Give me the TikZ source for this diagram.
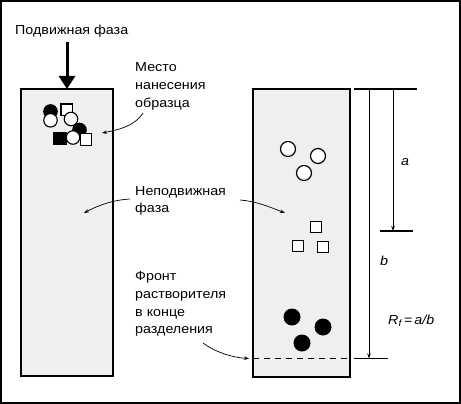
\documentclass[tikz,border=0pt]{standalone}
\usepackage{fontspec}
\setmainfont{Liberation Sans}[FakeStretch=1.1]
\usetikzlibrary{arrows.meta}
\definecolor{colfill}{HTML}{EFEFEF}
\begin{document}
\begin{tikzpicture}[x=1pt,y=-1pt,
  lbl/.style={anchor=base west, inner sep=0pt, align=left, font=\fontsize{13}{17.7}\selectfont},
  colbox/.style={draw=black, line width=1.8pt, fill=colfill},
  wc/.style={circle, draw=black, line width=1.2pt, fill=white, minimum size=15pt, inner sep=0pt},
  bc/.style={circle, fill=black, minimum size=17pt, inner sep=0pt},
  swc/.style={circle, draw=black, line width=1.1pt, fill=white, minimum size=13.5pt, inner sep=0pt},
  sbc/.style={circle, draw=black, line width=1.1pt, fill=black, minimum size=13.5pt, inner sep=0pt},
  wsq/.style={rectangle, draw=black, line width=1.2pt, fill=white, minimum size=11.5pt, inner sep=0pt},
  bsq/.style={rectangle, draw=black, line width=1.1pt, fill=black, minimum size=12.5pt, inner sep=0pt},
  ann/.style={line width=0.7pt, -{Stealth[length=5pt,width=3.5pt]}},
  scl/.style={line width=1.6pt},
  sca/.style={line width=0.8pt, -{Stealth[length=5pt,width=3.5pt]}},
  itl/.style={anchor=base west, inner sep=0pt, font=\fontsize{13}{15}\selectfont\itshape}
]
\useasboundingbox (0,0) rectangle (461,404);
\draw[line width=2pt] (1,1) rectangle (460,403);

% columns
\draw[colbox] (21,89) rectangle (113,376);
\draw[colbox] (253,89) rectangle (350,377);

% mobile phase
\node[lbl] (pf) at (15,35) {Подвижная фаза};
\coordinate (pfs) at (67,42);
\coordinate (pfe) at (67,89);
\draw[line width=3pt, -{Triangle[length=13pt,width=16pt]}] (pfs) -- (pfe);

% sample cluster
\node[sbc] (k1) at (50.5,111.5) {};
\node[swc] (k2) at (50.5,120.3) {};
\node[wsq] (k3) at (66.8,109.8) {};
\node[swc] (k4) at (71,119) {};
\node[sbc] (k5) at (79.5,130) {};
\node[bsq] (k6) at (60,138.5) {};
\node[wsq] (k7) at (86,139.5) {};
\node[swc] (k8) at (73,137.5) {};

% right column spots
\node[wc] (w1) at (288,149) {};
\node[wc] (w2) at (318,156) {};
\node[wc] (w3) at (304,173) {};
\node[wsq] (s1) at (316,227) {};
\node[wsq] (s2) at (298,246) {};
\node[wsq] (s3) at (323,247) {};
\node[bc] (b1) at (292,317) {};
\node[bc] (b2) at (323,327) {};
\node[bc] (b3) at (302,343) {};

% front
\draw[line width=1pt, dash pattern=on 6pt off 5pt] (253,358.5) -- (350,358.5);

% labels (base anchor = last line baseline)
\node[lbl] (mesto) at (135,107.4) {Место\\нанесения\\образца};
\node[lbl] (nep) at (135,212.7) {Неподвижная\\фаза};
\node[lbl] (front) at (135,333.8) {Фронт\\растворителя\\в конце\\разделения};

% annotation arrows
\coordinate (m1) at (143,113);
\coordinate (m2) at (102,133);
\draw[ann] (m1) .. controls (135,126) and (118,130) .. (m2);
\coordinate (n1) at (130,199);
\coordinate (n2) at (84,213);
\draw[ann] (n1) .. controls (112,200) and (97,206) .. (n2);
\coordinate (n3) at (240,200);
\coordinate (n4) at (285,213);
\draw[ann] (n3) .. controls (255,201) and (270,207) .. (n4);
\coordinate (f1) at (203,343);
\coordinate (f2) at (249,358.5);
\draw[ann] (f1) .. controls (215,352) and (232,357.5) .. (f2);

% scale
\coordinate (t1) at (354,89);
\coordinate (t2) at (417,89);
\coordinate (ma1) at (380,231);
\coordinate (ma2) at (413,231);
\coordinate (bo1) at (354,358.5);
\coordinate (bo2) at (388,358.5);
\draw[scl] (t1) -- (t2);
\draw[scl] (ma1) -- (ma2);
\draw[scl] (bo1) -- (bo2);
\coordinate (at) at (393,89);
\coordinate (ab) at (393,231);
\coordinate (bt) at (369,89);
\coordinate (bb) at (369,358.5);
\draw[sca] (at) -- (ab);
\draw[sca] (bt) -- (bb);
\node[itl] (la) at (401,165) {a};
\node[itl] (lb) at (380,265.5) {b};
\node[itl] (rf) at (388,324) {R\textsubscript{f}\,=\,a/b};
\end{tikzpicture}
\end{document}
